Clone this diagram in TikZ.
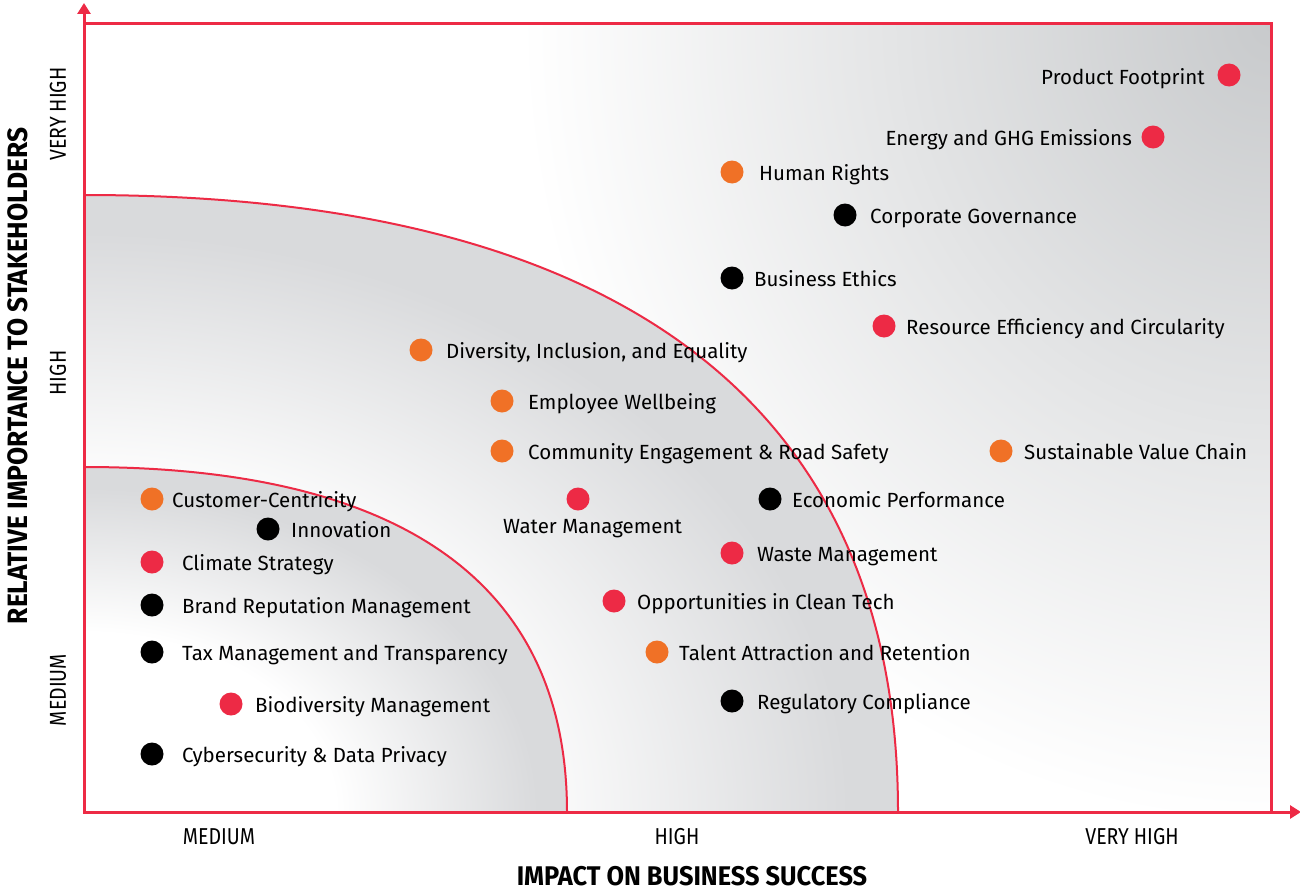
\documentclass[tikz,border=0pt]{standalone}
\usepackage{fontspec}
\setmainfont{Fira Sans}
\newfontfamily\tickfont[FakeStretch=0.85]{Fira Sans}
\newfontfamily\titlefont[FakeStretch=0.94]{Fira Sans}
\usetikzlibrary{arrows.meta}
\definecolor{axisred}{HTML}{ED2A45}
\definecolor{topicorange}{HTML}{F07126}
\definecolor{arcgray}{HTML}{D9DADC}
\definecolor{cornergray}{HTML}{C8CACC}
\pgfdeclareradialshading{regionshade}{\pgfpoint{0bp}{0bp}}{color(0bp)=(white); color(13bp)=(white); color(23.5bp)=(arcgray); color(25bp)=(arcgray); color(50bp)=(arcgray)}
\pgfdeclareradialshading{outershade}{\pgfpoint{0bp}{0bp}}{color(0bp)=(cornergray); color(25bp)=(white); color(50bp)=(white)}
\begin{document}
\begin{tikzpicture}[x=1pt,y=-1pt,
  bubble/.style={circle, inner sep=0pt, minimum size=23pt},
  redb/.style={bubble, fill=axisred},
  orb/.style={bubble, fill=topicorange},
  blb/.style={bubble, fill=black},
  topic/.style={anchor=base west, inner sep=0pt, font=\fontsize{20.5}{25}\selectfont},
  topicr/.style={topic, anchor=base east},
  ticklab/.style={inner sep=0pt, font=\tickfont\fontsize{23}{27}\selectfont},
  axistitle/.style={inner sep=0pt, font=\titlefont\bfseries\fontsize{27}{31}\selectfont},
  yaxistitle/.style={inner sep=0pt, font=\titlefont\bfseries\fontsize{28}{32}\selectfont},
  frame/.style={draw=axisred, line width=3pt},
  arcline/.style={draw=axisred, line width=2pt},
  axisline/.style={draw=axisred, line width=3pt, -{Triangle[length=11pt,width=13pt]}}]
\useasboundingbox (0,0) rectangle (1300,891);
% backgrounds
\begin{scope}
  \clip (84,24) rectangle (1271,812);
  \shade[shading=outershade] (521,-776) rectangle (2021,824);
\end{scope}
\begin{scope}
  \clip (84,812) -- (84,195) .. controls (621,195) and (898,405) .. (898,812) -- cycle;
  \shade[shading=regionshade] (-730,195) rectangle (898,1429);
\end{scope}
\begin{scope}
  \clip (84,812) -- (84,467) .. controls (403,467) and (567,584) .. (567,812) -- cycle;
  \shade[shading=regionshade] (-399,467) rectangle (567,1157);
\end{scope}
\path[arcline] (84,195) .. controls (621,195) and (898,405) .. (898,812);
\path[arcline] (84,467) .. controls (403,467) and (567,584) .. (567,812);
\path[frame] (84,24) rectangle (1271,812);
% axes
\coordinate (origin) at (84,812);
\coordinate (ytip) at (84,3);
\coordinate (xtip) at (1301,812);
\draw[axisline] (origin) -- (ytip);
\draw[axisline] (origin) -- (xtip);
% ticks and titles
\node[ticklab] (xmed) at (219,837) {MEDIUM};
\node[ticklab] (xhigh) at (677,837) {HIGH};
\node[ticklab] (xvhigh) at (1132,837) {VERY HIGH};
\node[ticklab, rotate=90] (ymed) at (58,690) {MEDIUM};
\node[ticklab, rotate=90] (yhigh) at (58,373) {HIGH};
\node[ticklab, rotate=90] (yvhigh) at (58,114) {VERY HIGH};
\node[axistitle] (xtitle) at (692,876) {IMPACT ON BUSINESS SUCCESS};
\node[yaxistitle, rotate=90] (ytitle) at (18,376) {RELATIVE IMPORTANCE TO STAKEHOLDERS};
% topics
\node[redb] (pf) at (1229,75) {};
\node[topicr] (pfl) at (1205,84) {Product Footprint};
\node[redb] (ghg) at (1153,137) {};
\node[topicr] (ghgl) at (1132,145) {Energy and GHG Emissions};
\node[orb] (hr) at (732,172) {};
\node[topic] (hrl) at (759,180) {Human Rights};
\node[blb] (cg) at (845,215) {};
\node[topic] (cgl) at (870,223) {Corporate Governance};
\node[blb] (be) at (732,278) {};
\node[topic] (bel) at (754,286) {Business Ethics};
\node[redb] (rec) at (884,326) {};
\node[topic] (recl) at (906,334) {Resource Efficiency and Circularity};
\node[orb] (die) at (421,350) {};
\node[topic] (diel) at (446,358) {Diversity, Inclusion, and Equality};
\node[orb] (ew) at (502,401) {};
\node[topic] (ewl) at (528,409) {Employee Wellbeing};
\node[orb] (ce) at (502,451) {};
\node[topic] (cel) at (528,459) {Community Engagement \& Road Safety};
\node[orb] (svc) at (1001,451) {};
\node[topic] (svcl) at (1024,459) {Sustainable Value Chain};
\node[orb] (cc) at (152,499) {};
\node[topic] (ccl) at (172,507) {Customer-Centricity};
\node[blb] (inn) at (268,529) {};
\node[topic] (innl) at (291,537) {Innovation};
\node[redb] (wm) at (578,499) {};
\node[topic] (wml) at (503,533) {Water Management};
\node[blb] (ep) at (770,499) {};
\node[topic] (epl) at (792,507) {Economic Performance};
\node[redb] (cs) at (152,562) {};
\node[topic] (csl) at (182,570) {Climate Strategy};
\node[redb] (wam) at (732,553) {};
\node[topic] (waml) at (757,561) {Waste Management};
\node[blb] (brm) at (152,605) {};
\node[topic] (brml) at (182,613) {Brand Reputation Management};
\node[redb] (oct) at (614,601) {};
\node[topic] (octl) at (637,609) {Opportunities in Clean Tech};
\node[blb] (tmt) at (152,652) {};
\node[topic] (tmtl) at (182,660) {Tax Management and Transparency};
\node[orb] (tar) at (657,652) {};
\node[topic] (tarl) at (679,660) {Talent Attraction and Retention};
\node[redb] (bm) at (231,704) {};
\node[topic] (bml) at (255,712) {Biodiversity Management};
\node[blb] (rc) at (732,701) {};
\node[topic] (rcl) at (757,709) {Regulatory Compliance};
\node[blb] (cdp) at (152,754) {};
\node[topic] (cdpl) at (182,762) {Cybersecurity \& Data Privacy};
\end{tikzpicture}
\end{document}
